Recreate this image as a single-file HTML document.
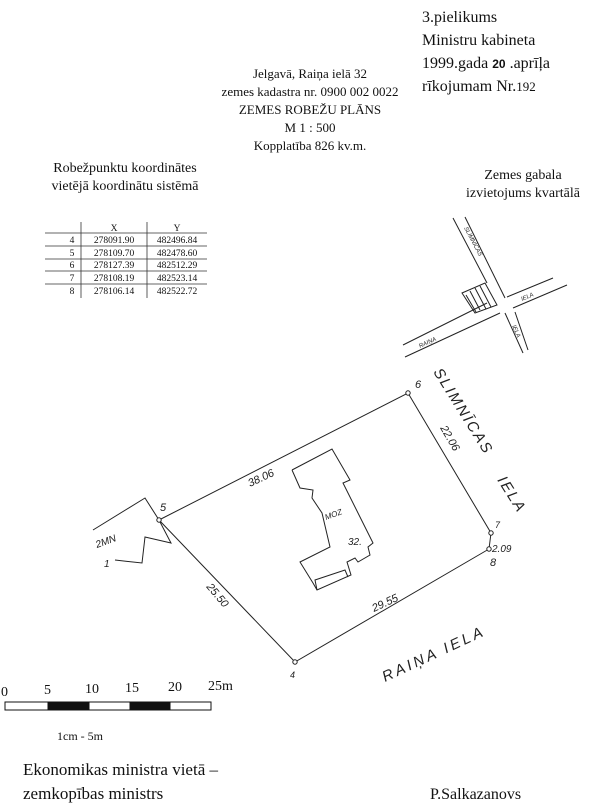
<!DOCTYPE html>
<html><head><meta charset="utf-8"><style>
html,body{margin:0;padding:0;background:#fff;}
svg{display:block;}
.s{font-family:"Liberation Serif",serif;fill:#111;}
.h{font-family:"Liberation Sans",sans-serif;fill:#222;}
</style></head><body>
<svg width="600" height="807" viewBox="0 0 600 807" xmlns="http://www.w3.org/2000/svg">
<g class="s" font-size="16">
<text x="422" y="22">3.pielikums</text>
<text x="422" y="45">Ministru kabineta</text>
<text x="422" y="68">1999.gada  <tspan font-family="Liberation Sans" font-size="12" font-weight="bold">20</tspan>  .aprīļa</text>
<text x="422" y="91">rīkojumam Nr.<tspan font-size="13">192</tspan></text>
</g>
<g class="s" font-size="13" text-anchor="middle">
<text x="310" y="78">Jelgavā, Raiņa ielā 32</text>
<text x="310" y="96">zemes kadastra nr. 0900 002 0022</text>
<text x="310" y="114">ZEMES ROBEŽU PLĀNS</text>
<text x="310" y="132">M 1 : 500</text>
<text x="310" y="150">Kopplatība 826 kv.m.</text>
<text x="125" y="172" font-size="14">Robežpunktu koordinātes</text>
<text x="125" y="190" font-size="14">vietējā  koordinātu sistēmā</text>
<text x="523" y="179" font-size="14">Zemes gabala</text>
<text x="523" y="197" font-size="14">izvietojums kvartālā</text>
</g>
<g stroke="#333" stroke-width="0.8">
<line x1="81" y1="222" x2="81" y2="298"/><line x1="147" y1="222" x2="147" y2="298"/>
<line x1="45" y1="233" x2="207" y2="233"/><line x1="45" y1="246" x2="207" y2="246"/>
<line x1="45" y1="259" x2="207" y2="259"/><line x1="45" y1="271" x2="207" y2="271"/>
<line x1="45" y1="284" x2="207" y2="284"/>
</g>
<g class="s" font-size="9.5" text-anchor="middle">
<text x="114" y="231">X</text><text x="177" y="231">Y</text>
<text x="72" y="243">4</text><text x="114" y="243">278091.90</text><text x="177" y="243">482496.84</text>
<text x="72" y="256">5</text><text x="114" y="256">278109.70</text><text x="177" y="256">482478.60</text>
<text x="72" y="268">6</text><text x="114" y="268">278127.39</text><text x="177" y="268">482512.29</text>
<text x="72" y="281">7</text><text x="114" y="281">278108.19</text><text x="177" y="281">482523.14</text>
<text x="72" y="294">8</text><text x="114" y="294">278106.14</text><text x="177" y="294">482522.72</text>
</g>
<g stroke="#222" stroke-width="1" fill="none">
<line x1="453" y1="218" x2="487" y2="283"/><line x1="505" y1="313" x2="523" y2="353"/>
<line x1="465" y1="217" x2="505" y2="298"/><line x1="515" y1="312" x2="528" y2="350"/>
<line x1="403" y1="345" x2="487" y2="303"/><line x1="507" y1="297" x2="553" y2="278"/>
<line x1="405" y1="357" x2="500" y2="313"/><line x1="513" y1="308" x2="567" y2="285"/>
<polygon points="462,293 485,283 497,305 475,313"/>
<line x1="470" y1="291" x2="480" y2="310"/><line x1="475" y1="288" x2="486" y2="309"/>
<line x1="480" y1="286" x2="491" y2="307"/><line x1="466" y1="295" x2="476" y2="312"/>
</g>
<g class="h" font-size="6" font-style="italic">
<text transform="translate(464,228) rotate(62)">SLIMNĪCAS</text>
<text transform="translate(420,348) rotate(-25)">RAIŅA</text>
<text transform="translate(522,301) rotate(-23)">IELA</text>
<text transform="translate(512,326) rotate(66)">IELA</text>
</g>
<g stroke="#222" stroke-width="1" fill="none">
<polygon points="159,520 408,393 491,533 489,549 295,662"/>
<polyline points="93,530 145,498 159,520 171,543 145,537 142,563 115,560"/>
<polyline points="292,470 332,449 350,480 343,483 373,543 368,547 370,555 358,562 355,558 347,562 351,575 317,590 313,583 300,562 330,547 322,513 312,498 313,490 300,488 292,470"/>
<polyline points="317,590 315,580 345,570 348,577"/>
</g>
<g fill="#fff" stroke="#222" stroke-width="1">
<circle cx="159" cy="520" r="2.2"/><circle cx="408" cy="393" r="2.2"/>
<circle cx="491" cy="533" r="2.2"/><circle cx="489" cy="549" r="2.2"/><circle cx="295" cy="662" r="2.2"/>
</g>
<g class="h" font-size="11" font-style="italic">
<text x="160" y="511">5</text><text x="415" y="388">6</text><text x="495" y="528" font-size="9">7</text>
<text x="492" y="552" font-size="10">2.09</text><text x="490" y="566">8</text><text x="290" y="678" font-size="9">4</text>
<text transform="translate(250,487) rotate(-25)">38.06</text>
<text transform="translate(440,428) rotate(60)">22.06</text>
<text transform="translate(206,587) rotate(50)">25.50</text>
<text transform="translate(374,612) rotate(-25)">29.55</text>
<text transform="translate(97,548) rotate(-20)" font-size="10">2MN</text>
<text x="104" y="567" font-size="10">1</text>
<text transform="translate(326,520) rotate(-20)" font-size="8">MOZ</text>
<text x="348" y="545" font-size="10">32.</text>
<text transform="translate(433,372) rotate(58)" font-size="15" letter-spacing="2">SLIMNĪCAS</text>
<text transform="translate(497,480) rotate(58)" font-size="15" letter-spacing="2">IELA</text>
<text transform="translate(385,682) rotate(-25)" font-size="15" letter-spacing="3">RAIŅA  IELA</text>
</g>
<g stroke="#111" stroke-width="1">
<rect x="5" y="702" width="206" height="8" fill="#fff"/>
<rect x="48" y="702" width="41" height="8" fill="#111"/>
<rect x="130" y="702" width="40" height="8" fill="#111"/>
</g>
<g class="s" font-size="14">
<text x="1" y="696">0</text><text x="44" y="694">5</text><text x="85" y="693">10</text>
<text x="125" y="692">15</text><text x="168" y="691">20</text><text x="208" y="690">25m</text>
<text x="57" y="740" font-size="12">1cm - 5m</text>
<text x="23" y="775" font-size="17">Ekonomikas ministra vietā –</text>
<text x="23" y="799" font-size="17">zemkopības ministrs</text>
<text x="430" y="799" font-size="16">P.Salkazanovs</text>
</g>
</svg>
</body></html>
